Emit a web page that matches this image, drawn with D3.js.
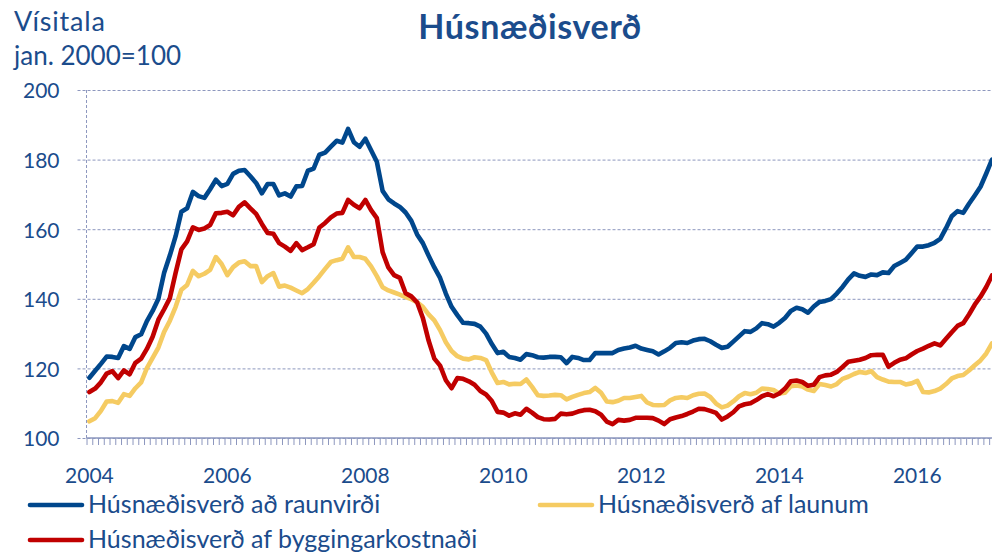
<!DOCTYPE html>
<html><head><meta charset="utf-8">
<script src="https://cdn.jsdelivr.net/npm/d3@7"></script>
<style>
body{margin:0;background:#fff}
svg{display:block}
text{font-family:Lato,"Open Sans",sans-serif;fill:#1b4c8c}
</style>
</head><body>
<svg id="chart" width="992" height="553"></svg>
<script>
// Categories: monthly, Jan 2004 .. Feb 2017
const months = d3.timeMonth.range(new Date(2004,0,1), new Date(2017,2,1));
const yearLabels = ["2004","2006","2008","2010","2012","2014","2016"];
const yTicks = [100,120,140,160,180,200];
const seriesNames = ["Húsnæðisverð að raunvirði","Húsnæðisverð af launum","Húsnæðisverð af byggingarkostnaði"];

const realPrice = [
117.3,119.3,121.3,123.4,123.3,123.0,126.4,125.6,129.0,129.8,133.6,136.5,
140.0,147.5,152.5,158.0,165.0,166.0,170.7,169.5,169.0,171.5,174.2,172.4,
173.0,175.9,176.8,177.0,175.2,173.3,170.3,173.0,173.0,169.7,170.3,169.4,
172.3,172.4,176.8,177.4,181.4,182.0,183.7,185.4,184.9,188.8,185.0,183.7,
186.0,182.7,179.4,171.0,168.6,167.4,166.4,164.8,162.4,158.5,156.0,152.4,
149.0,146.0,141.5,137.7,135.3,133.1,133.0,132.8,132.0,130.0,127.0,124.4,
124.8,123.3,123.0,122.5,124.1,123.8,123.2,123.1,123.3,123.3,123.2,121.5,
123.3,123.0,122.4,122.4,124.4,124.4,124.4,124.4,125.3,125.7,126.0,126.5,
125.7,125.3,124.9,124.0,124.9,125.9,127.3,127.5,127.3,128.0,128.4,128.5,
127.8,126.8,125.9,126.2,127.7,129.2,130.7,130.5,131.5,133.0,132.7,132.0,
133.1,134.5,136.5,137.4,137.0,136.0,137.8,139.1,139.4,139.9,141.5,143.4,
145.6,147.3,146.6,146.3,147.0,146.8,147.6,147.4,149.4,150.3,151.2,153.1,
155.0,155.0,155.4,156.1,157.2,160.3,163.7,165.2,164.7,167.3,169.7,172.2,
176.0,180.0];

const priceToWages = [
104.8,105.7,107.8,110.5,110.6,110.1,112.6,112.1,114.3,116.0,120.1,123.0,
126.0,130.5,133.7,137.7,142.6,144.0,148.0,146.5,147.2,148.3,152.0,150.0,
146.8,149.1,150.4,150.8,149.4,149.4,144.8,146.5,147.4,143.5,143.8,143.2,
142.4,141.6,142.8,144.6,146.5,148.6,150.6,151.1,151.5,154.8,152.0,152.0,
151.5,149.3,146.5,143.3,142.4,141.8,141.2,140.5,139.9,139.0,137.7,135.5,
133.8,131.0,127.5,125.0,123.5,122.8,122.6,123.2,123.0,122.4,118.8,115.8,
116.1,115.4,115.6,115.5,116.8,114.7,112.3,112.1,112.2,112.4,112.3,111.1,
111.8,112.4,112.9,113.2,114.4,113.0,110.5,110.3,110.7,111.5,111.5,111.8,
112.1,110.2,109.5,109.4,109.5,110.8,111.5,111.7,111.5,112.3,112.7,112.8,
111.8,109.9,108.8,109.3,110.5,112.0,112.9,112.6,113.0,114.2,114.1,113.8,
112.8,113.0,114.9,115.1,114.8,113.9,113.5,115.5,115.2,114.8,115.5,117.0,
117.6,118.4,119.0,118.7,119.2,117.5,116.8,116.2,116.1,116.1,115.4,115.7,
116.4,113.2,113.1,113.5,114.2,115.5,117.1,117.8,118.1,119.4,120.9,122.3,
124.3,127.2];

const priceToCost = [
113.2,114.2,116.0,118.5,119.2,117.2,119.4,118.3,121.6,122.8,125.6,129.1,
134.0,137.0,140.2,147.5,154.2,156.5,160.5,159.8,160.2,161.2,164.6,164.7,
165.0,164.0,166.4,167.7,166.0,164.4,161.5,158.9,158.7,156.0,155.0,153.8,
156.0,154.0,154.8,155.7,160.5,161.8,163.4,164.5,164.7,168.4,167.0,166.0,
168.4,165.5,163.2,153.4,149.0,146.8,146.0,141.6,140.7,139.0,134.5,128.0,
122.8,120.8,116.6,114.3,117.2,117.0,116.3,115.3,113.5,112.5,110.6,107.5,
107.3,106.4,107.1,106.7,108.4,107.3,106.0,105.4,105.3,105.5,107.0,106.8,
107.0,107.6,108.0,108.1,107.7,106.7,104.7,104.0,105.2,105.0,105.2,105.8,
105.8,105.8,105.7,105.0,104.0,105.4,105.9,106.3,106.9,107.6,108.4,108.3,
107.8,107.2,105.3,106.2,107.4,109.1,109.7,110.0,110.9,112.0,112.6,112.0,
112.8,114.2,116.3,116.5,116.1,115.0,115.3,117.5,118.0,118.2,119.0,120.4,
121.9,122.2,122.5,123.0,123.8,123.9,123.9,120.5,121.6,122.5,122.9,124.0,
125.0,125.7,126.5,127.2,126.6,128.5,130.4,132.2,133.0,135.5,138.3,140.6,
143.4,146.7];

const colors = {real:"#00478c", wages:"#f5cb62", cost:"#c00000"};
const gridColor = "#8d97be";

const svg = d3.select("#chart");
const x = d3.scaleLinear().domain([0, months.length-1]).range([89.4, 992]);
const y = d3.scaleLinear().domain([100,200]).range([438,90]);
const axisLeftX = x(-0.5);

// horizontal gridlines (dashed), extending left as ticks
const yAxis = d3.axisLeft(y).tickValues(yTicks).tickSize(-(992-axisLeftX)).tickPadding(27).tickFormat(d3.format("d"));
const gy = svg.append("g").attr("transform",`translate(${axisLeftX},0)`).call(yAxis);
gy.select(".domain").remove();
gy.selectAll(".tick line").attr("x1",-9).attr("stroke",gridColor).attr("stroke-dasharray","3,2").attr("stroke-width",1);
gy.selectAll(".tick text").attr("font-size",21).attr("dy","0.38em").style("fill","#1b4c8c").attr("font-family","Lato,'Open Sans',sans-serif");

// vertical dashed axis line
svg.append("line").attr("x1",axisLeftX).attr("x2",axisLeftX).attr("y1",y(200)).attr("y2",y(100))
  .attr("stroke",gridColor).attr("stroke-dasharray","3,2").attr("stroke-width",1);

// x axis: monthly ticks between categories
const tickIdx = d3.range(-0.5, months.length, 1);
const xAxis = d3.axisBottom(x).tickValues(tickIdx).tickSize(7).tickFormat("");
const gx = svg.append("g").attr("transform",`translate(0,${y(100)})`).call(xAxis);
gx.select(".domain").attr("stroke",gridColor).attr("stroke-width",1.5).attr("d",`M${axisLeftX},0H992`);
gx.selectAll(".tick line").attr("stroke",gridColor).attr("stroke-width",1);

// year labels
const yearIdx = yearLabels.map(l => months.findIndex(m => m.getFullYear()===+l && m.getMonth()===0));
svg.append("g").selectAll("text").data(yearLabels).join("text")
  .attr("x",(d,i)=>x(yearIdx[i])).attr("y",483).attr("text-anchor","middle")
  .attr("font-size",21).text(d=>d);

// lines
const line = d3.line().x((d,i)=>x(i)).y(d=>y(d));
const series = [
  {vals:realPrice, color:colors.real},
  {vals:priceToWages, color:colors.wages},
  {vals:priceToCost, color:colors.cost}
];
svg.append("clipPath").attr("id","clp").append("rect").attr("x",0).attr("y",0).attr("width",992).attr("height",553);
svg.append("g").attr("clip-path","url(#clp)").selectAll("path").data(series).join("path")
  .attr("d",d=>line(d.vals)).attr("fill","none").attr("stroke",d=>d.color)
  .attr("stroke-width",4.6).attr("stroke-linejoin","round").attr("stroke-linecap","round");

// title and axis caption
svg.append("text").attr("x",530).attr("y",39).attr("text-anchor","middle")
  .attr("font-size",34).attr("font-weight","bold").attr("letter-spacing",0.6).text("Húsnæðisverð");
svg.append("text").attr("x",14).attr("y",31).attr("font-size",27).attr("letter-spacing",0.8).text("Vísitala");
svg.append("text").attr("x",14).attr("y",65).attr("font-size",26).text("jan. 2000=100");

// legend
const legend = [
  {name:seriesNames[0], color:colors.real, lx:30, ly:505},
  {name:seriesNames[1], color:colors.wages, lx:540, ly:505},
  {name:seriesNames[2], color:colors.cost, lx:30, ly:540}
];
const lg = svg.append("g").selectAll("g").data(legend).join("g");
lg.append("line").attr("x1",d=>d.lx).attr("x2",d=>d.lx+52).attr("y1",d=>d.ly).attr("y2",d=>d.ly)
  .attr("stroke",d=>d.color).attr("stroke-width",4.6).attr("stroke-linecap","round");
lg.append("text").attr("x",d=>d.lx+58).attr("y",d=>d.ly+8).attr("font-size",25).text(d=>d.name);
</script>
</body></html>
